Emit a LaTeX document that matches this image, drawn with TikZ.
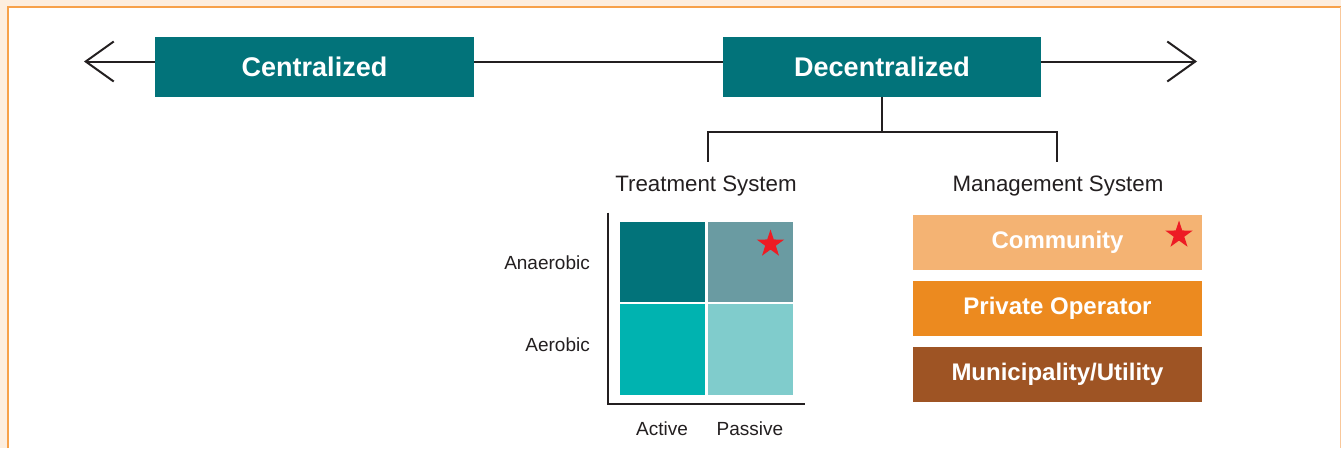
\documentclass[tikz,border=0pt]{standalone}
\usepackage{fontspec}
\setmainfont{Liberation Sans}
\usetikzlibrary{shapes.geometric,arrows.meta}
\definecolor{peach}{HTML}{FDEEDF}
\definecolor{bordor}{HTML}{F7A14A}
\definecolor{bordlt}{HTML}{F9C89B}
\definecolor{tealdk}{HTML}{02737A}
\definecolor{tealgr}{HTML}{6A9BA2}
\definecolor{tealbr}{HTML}{00B3B0}
\definecolor{tealpl}{HTML}{80CCCC}
\definecolor{comm}{HTML}{F4B373}
\definecolor{priv}{HTML}{EC8A1F}
\definecolor{muni}{HTML}{9E5424}
\definecolor{starred}{HTML}{ED1C24}
\definecolor{ink}{HTML}{231F20}
\tikzset{
  headbox/.style={fill=tealdk, text=white, inner sep=0pt, minimum height=60pt, font=\bfseries\fontsize{27}{27}\selectfont},
  cell/.style={inner sep=0pt, minimum width=85pt},
  mgbox/.style={inner sep=0pt, minimum width=289pt, minimum height=55pt, text=white, font=\bfseries\fontsize{24}{24}\selectfont},
  lbl/.style={inner sep=0pt, text=ink, font=\fontsize{19}{19}\selectfont},
  sublbl/.style={inner sep=0pt, text=ink, font=\fontsize{22.3}{22.3}\selectfont},
  redstar/.style={star, star points=5, star point ratio=2.6, minimum size=29pt, inner sep=0pt, fill=starred},
  ln/.style={draw=ink, line width=2pt},
}
\begin{document}
\begin{tikzpicture}[x=1pt,y=-1pt]
\useasboundingbox (0,0) rectangle (1341,448);
\fill[peach] (0,0) rectangle (1341,448);
\fill[white] (7,6) rectangle (1341,448);
\draw[bordor, line width=1.6pt] (7.8,448) -- (7.8,6.8) -- (1341,6.8);
\draw[bordlt, line width=1.2pt] (1340.2,6.8) -- (1340.2,448);

% main axis
\coordinate (lt) at (84,61.5);
\coordinate (rt) at (1197,61.5);
\draw[ln, {Straight Barb[length=28pt,width=40pt,line width=2pt]}-{Straight Barb[length=28pt,width=40pt,line width=2pt]}] (lt) -- (rt);

\node[headbox, minimum width=319pt] (cen) at (314.5,67) {Centralized};
\node[headbox, minimum width=318pt] (dec) at (882,67) {Decentralized};

% bracket
\coordinate (mid) at (882,131.5);
\coordinate (tsTop) at (708,161.5);
\coordinate (msTop) at (1057,161.5);
\draw[ln] (dec.south) -- (mid);
\draw[ln] (tsTop) |- (mid) -| (msTop);

\node[sublbl] (ts) at (706,186.5) {Treatment System};
\node[sublbl] (ms) at (1058,186.5) {Management System};

% matrix
\node[cell, fill=tealdk, minimum height=80pt] (c11) at (662.5,262) {};
\node[cell, fill=tealgr, minimum height=80pt] (c12) at (750.5,262) {};
\node[cell, fill=tealbr, minimum height=91pt] (c21) at (662.5,349.5) {};
\node[cell, fill=tealpl, minimum height=91pt] (c22) at (750.5,349.5) {};
\node[redstar] (s1) at (770.5,244) {};

\coordinate (axTop) at (608,212.5);
\coordinate (axO) at (608,404);
\coordinate (axEnd) at (805,404);
\draw[ln] (axTop) -- (axO) -- (axEnd);

\node[lbl, anchor=east] (an) at (590,262.5) {Anaerobic};
\node[lbl, anchor=east] (ae) at (590,344.5) {Aerobic};
\node[lbl] (act) at (662,428.5) {Active};
\node[lbl] (pas) at (750,428.5) {Passive};

% management
\node[mgbox, fill=comm] (com) at (1057.5,242.5) {Community};
\node[mgbox, fill=priv] (pri) at (1057.5,308.5) {Private Operator};
\node[mgbox, fill=muni] (mun) at (1057.5,374.5) {Municipality/Utility};
\node[redstar] (s2) at (1179,235) {};
\end{tikzpicture}
\end{document}
